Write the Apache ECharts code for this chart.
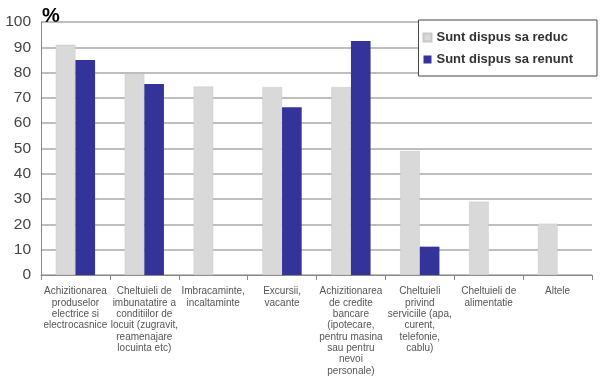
<!DOCTYPE html>
<html><head><meta charset="utf-8">
<script src="https://cdn.jsdelivr.net/npm/echarts@6/dist/echarts.min.js"></script>
<style>html,body{margin:0;padding:0;background:#fff}#c{width:600px;height:382px}</style>
</head><body><div id="c"></div>
<script>
var categories = [
  "Achizitionarea\nproduselor\nelectrice si\nelectrocasnice",
  "Cheltuieli de\nimbunatatire a\nconditiilor de\nlocuit (zugravit,\nreamenajare\nlocuinta etc)",
  "Imbracaminte,\nincaltaminte",
  "Excursii,\nvacante",
  "Achizitionarea\nde credite\nbancare\n(ipotecare,\npentru masina\nsau pentru\nnevoi\npersonale)",
  "Cheltuieli\nprivind\nserviciile (apa,\ncurent,\ntelefonie,\ncablu)",
  "Cheltuieli de\nalimentatie",
  "Altele"
];
var seriesNames = ["Sunt dispus sa reduc", "Sunt dispus sa renunt"];
var reduc = [91, 79.5, 74.5, 74.3, 74.3, 49, 29, 20.3];
var renunt = [85, 75.5, null, 66.3, 92.5, 11.2, null, null];
var yTicks = [0, 10, 20, 30, 40, 50, 60, 70, 80, 90, 100];

var chart = echarts.init(document.getElementById('c'));
chart.setOption({
  animation: false,
  grid: {left: 41, right: 8, top: 22, bottom: 107, containLabel: false},
  title: {text: '%', left: 37, top: 1, textStyle: {fontFamily: 'Liberation Sans, Arial', fontSize: 20, fontWeight: 'bold', color: '#000'}},
  legend: {
    data: seriesNames,
    orient: 'vertical', right: 3, top: 20,
    width: 180,
    padding: [11, 24, 10, 4],
    itemGap: 9,
    itemWidth: 8, itemHeight: 8,
    backgroundColor: '#fff', borderColor: '#444', borderWidth: 1,
    icon: 'rect',
    textStyle: {fontFamily: 'Liberation Sans, Arial', fontSize: 13, fontWeight: 'bold', color: '#333'}
  },
  xAxis: {
    type: 'category', data: categories,
    axisLine: {lineStyle: {color: '#888'}},
    axisTick: {show: true, lineStyle: {color: '#888'}, length: 5},
    axisLabel: {interval: 0, fontFamily: 'Liberation Sans, Arial', fontSize: 10, color: '#555', lineHeight: 11.3, margin: 11}
  },
  yAxis: {
    type: 'value', min: 0, max: 100, interval: 10,
    axisLine: {show: true, lineStyle: {color: '#888'}},
    axisTick: {show: false},
    splitLine: {lineStyle: {color: '#a8a8a8', width: 1.5}},
    axisLabel: {fontFamily: 'Liberation Sans, Arial', fontSize: 15.5, color: '#444', margin: 10,
      formatter: function(v){ return yTicks.indexOf(v) >= 0 ? String(v) : ''; }}
  },
  series: [
    {name: seriesNames[0], type: 'bar', data: reduc, barGap: '0%', barCategoryGap: '43%',
     itemStyle: {color: '#d9d9d9', borderColor: '#c8c8c8', borderWidth: 0.5}},
    {name: seriesNames[1], type: 'bar', data: renunt,
     itemStyle: {color: '#333399'}}
  ]
});
</script></body></html>
